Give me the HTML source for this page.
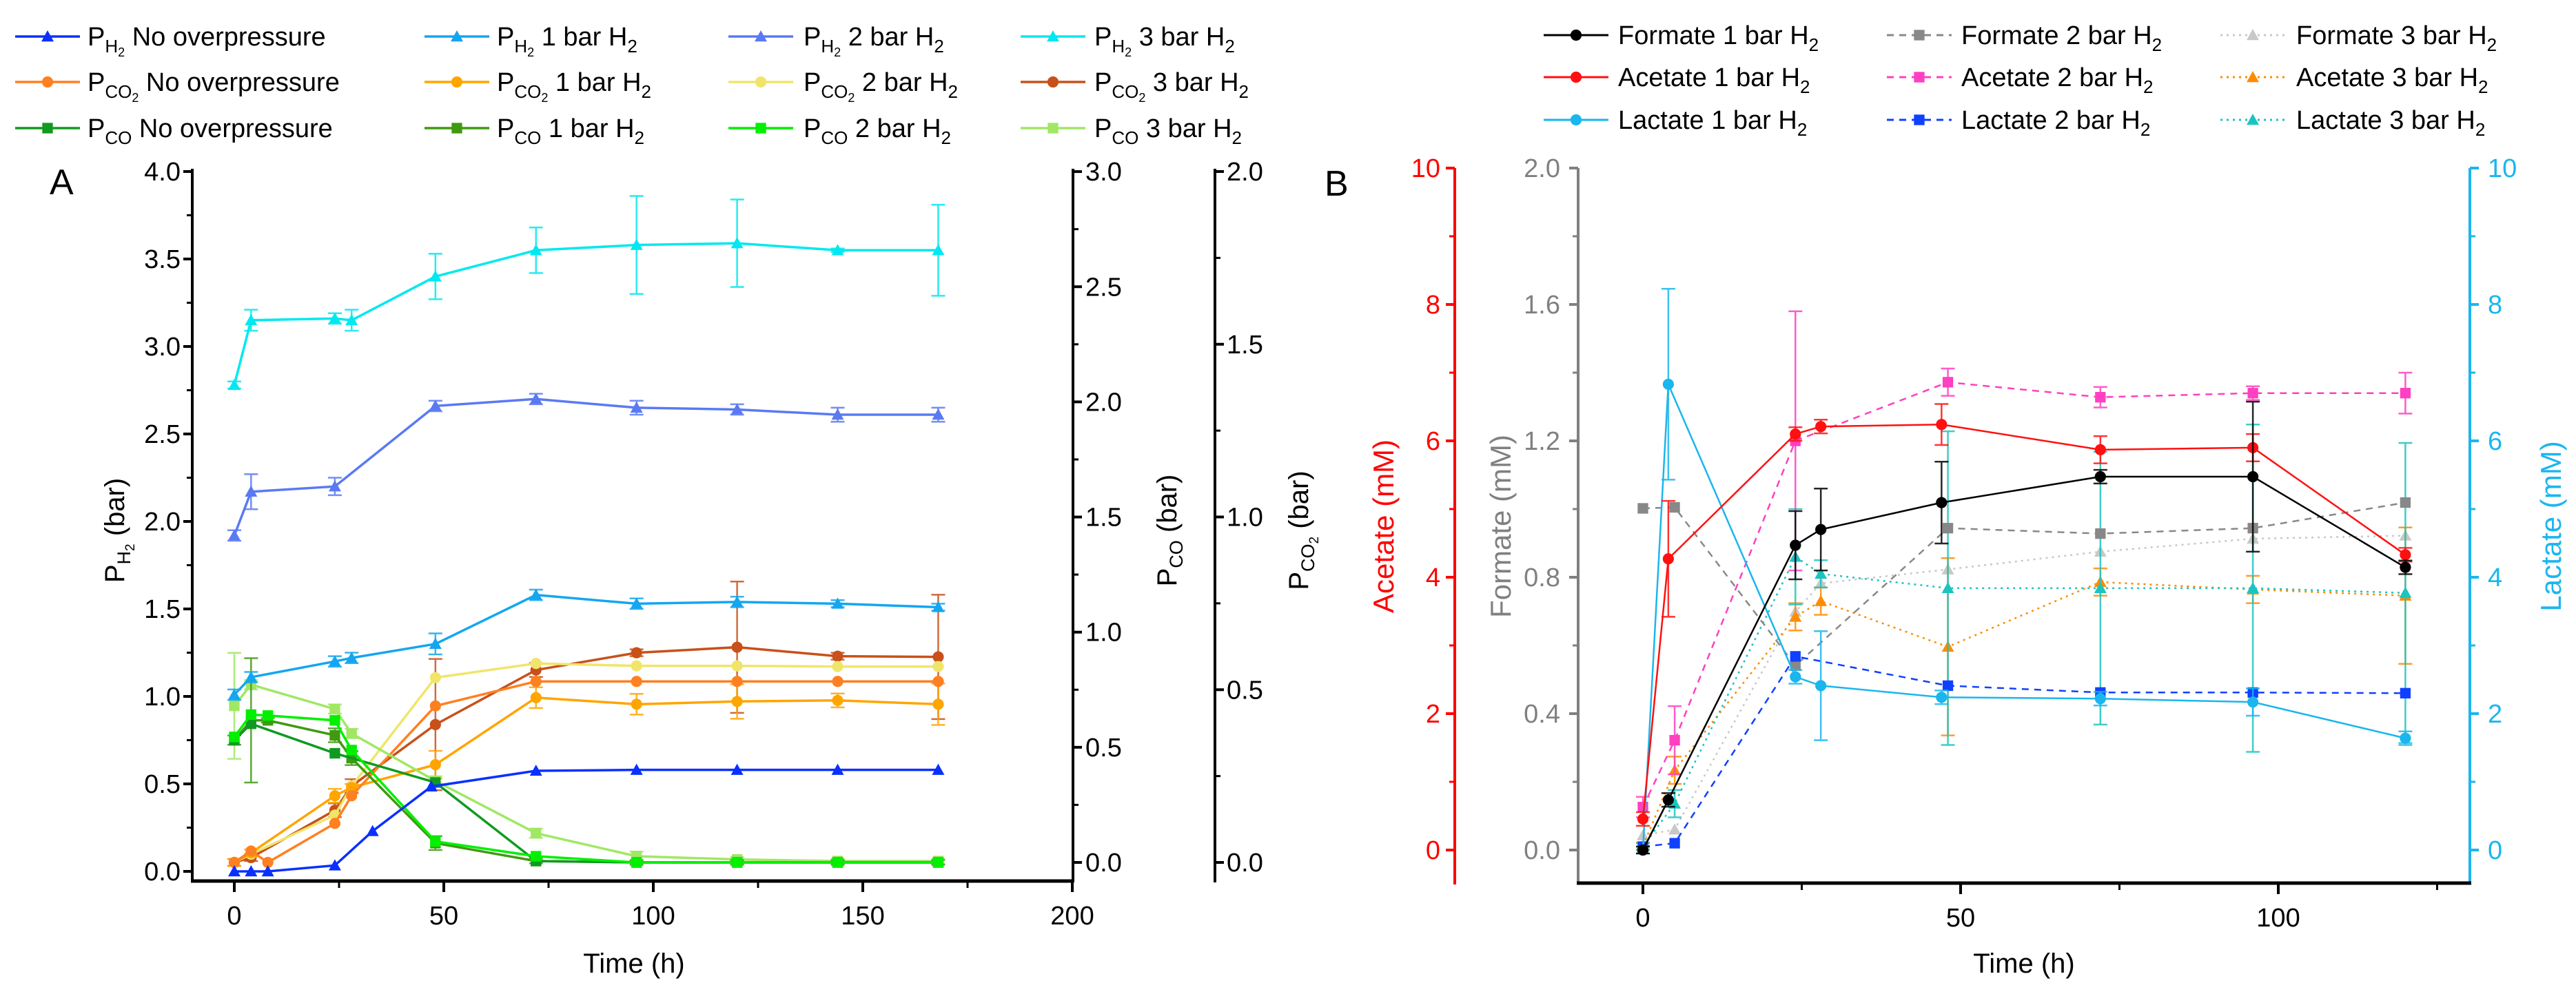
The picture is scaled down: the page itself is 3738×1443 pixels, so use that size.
<!DOCTYPE html>
<html><head><meta charset="utf-8"><style>
html,body{margin:0;padding:0;background:#fff;}
svg{display:block;font-family:"Liberation Sans",Arial,sans-serif;}
</style></head><body>
<svg id="chart" width="3738" height="1443" viewBox="0 0 3738 1443" xmlns="http://www.w3.org/2000/svg">
<rect width="3738" height="1443" fill="#fff"/>
<g id="legendA" font-size="38" fill="#000"></g>
<g id="legendB" font-size="38" fill="#000"></g>
<g id="axesA"></g>
<g id="axesB"></g>
<g id="marksA"></g>
<g id="marksB"></g>
<text x="72" y="282" font-size="52">A</text>
<text x="1922" y="284" font-size="52">B</text>
<text x="920" y="1412" font-size="40" text-anchor="middle">Time (h)</text>
<text x="2937" y="1412" font-size="40" text-anchor="middle">Time (h)</text>
<text transform="translate(180,770) rotate(-90)" font-size="40" text-anchor="middle">P<tspan font-size="27" dy="9">H</tspan><tspan font-size="19" dy="6">2</tspan><tspan dy="-15"> (bar)</tspan></text>
<text transform="translate(1707,770) rotate(-90)" font-size="40" text-anchor="middle">P<tspan font-size="27" dy="9">CO</tspan><tspan dy="-9"> (bar)</tspan></text>
<text transform="translate(1898,770) rotate(-90)" font-size="40" text-anchor="middle">P<tspan font-size="27" dy="9">CO</tspan><tspan font-size="19" dy="6">2</tspan><tspan dy="-15"> (bar)</tspan></text>
<text transform="translate(2022,764) rotate(-90)" font-size="42" fill="#ff0000" text-anchor="middle">Acetate (mM)</text>
<text transform="translate(2192,764) rotate(-90)" font-size="42" fill="#808080" text-anchor="middle">Formate (mM)</text>
<text transform="translate(3716,764) rotate(-90)" font-size="42" fill="#1ab6ee" text-anchor="middle">Lactate (mM)</text>
</svg>
<script>
// ---------- Panel A data ----------
const tH2None = [0,4,8,24,33,47,72,96,120,144,168];
const ph2None = [0,0,0,0.034,0.23,0.485,0.575,0.58,0.58,0.58,0.58];
const tH2One = [0,4,24,28,48,72,96,120,144,168];
const ph2One = [1.01,1.11,1.20,1.22,1.30,1.58,1.53,1.54,1.53,1.51];
const ph2OneErr = [0.03,0.03,0.03,0.03,0.06,0.03,0.03,0.03,0.02,0.02];
const tH2Two = [0,4,24,48,72,96,120,144,168];
const ph2Two = [1.92,2.17,2.20,2.66,2.70,2.65,2.64,2.61,2.61];
const ph2TwoErr = [0.03,0.1,0.05,0.03,0.03,0.04,0.03,0.04,0.04];
const tH2Three = [0,4,24,28,48,72,96,120,144,168];
const ph2Three = [2.78,3.15,3.16,3.15,3.40,3.55,3.58,3.59,3.55,3.55];
const ph2ThreeErr = [0.02,0.06,0.03,0.06,0.13,0.13,0.28,0.25,0.01,0.26];

const tCO2None = [0,4,8,24,28,48,72,96,120,144,168];
const pco2None = [0,0.033,0,0.113,0.193,0.453,0.524,0.524,0.524,0.524,0.524];
const tCO2 = [0,4,24,28,48,72,96,120,144,168];
const pco2One = [0,0.028,0.193,0.217,0.283,0.477,0.458,0.466,0.469,0.458];
const pco2OneErr = [0.01,0.01,0.02,0.01,0.04,0.03,0.03,0.05,0.02,0.06];
const pco2Two = [0,0.024,0.137,0.221,0.535,0.576,0.569,0.569,0.567,0.567];
const pco2Three = [0,0.014,0.151,0.221,0.399,0.557,0.607,0.623,0.597,0.595];
const pco2ThreeErr = [0.01,0.01,0.02,0.02,0.19,0.02,0.01,0.19,0.01,0.18];

const tCONone = [0,4,24,48,72,96,120,144,168];
const pcoNone = [0.531,0.602,0.474,0.347,0.006,0,0,0,0];
const tCO = [0,4,8,24,28,48,72,96,120,144,168];
const pcoOne = [0.531,0.617,0.617,0.552,0.453,0.084,0.006,0,0,0,0];
const pcoOneErr = [0.02,0.27,0.01,0.03,0.03,0.03,0.01,0.01,0.01,0.01,0.01];
const pcoTwo = [0.545,0.642,0.638,0.617,0.488,0.091,0.027,0,0,0,0];
const tCOThree = [0,4,24,28,48,72,96,120,144,168];
const pcoThree = [0.680,0.772,0.666,0.560,0.354,0.127,0.027,0.013,0.006,0.006];
const pcoThreeErr = [0.23,0.02,0.02,0.02,0.02,0.02,0.02,0.01,0.01,0.01];

const xTicksA = [0,50,100,150,200];
const yTicksLeftA = ['0.0','0.5','1.0','1.5','2.0','2.5','3.0','3.5','4.0'];
const yTicksCO = ['0.0','0.5','1.0','1.5','2.0','2.5','3.0'];
const yTicksCO2 = ['0.0','0.5','1.0','1.5','2.0'];

// ---------- Panel B data ----------
const tB1 = [0,4,24,28,47,72,96,120];
const formate1 = [0,0.147,0.894,0.94,1.019,1.095,1.095,0.829];
const formate1Err = [0.01,0.02,0.1,0.12,0.12,0.02,0.22,0.02];
const acetate1 = [0.455,4.27,6.10,6.21,6.24,5.87,5.90,4.33];
const acetate1Err = [0.1,0.85,0.1,0.1,0.3,0.2,0.2,0.1];
const lactate1 = [0,6.83,2.54,2.41,2.24,2.22,2.17,1.64];
const lactate1Err = [0.05,1.4,0.1,0.8,0.1,0.1,0.2,0.1];
const tB2 = [0,5,24,48,72,96,120];
const formate2 = [1.002,1.005,0.541,0.944,0.928,0.944,1.019];
const acetate2 = [0.63,1.61,6.00,6.86,6.64,6.70,6.70];
const acetate2Err = [0.15,0.5,1.9,0.2,0.15,0.1,0.3];
const lactate2 = [0.05,0.10,2.84,2.41,2.31,2.31,2.30];
const tB3 = [0,5,24,28,48,72,96,120];
const formate3 = [0.043,0.06,0.699,0.782,0.823,0.875,0.913,0.922];
const acetate3 = [0.06,1.17,3.42,3.65,2.98,3.93,3.82,3.73];
const acetate3Err = [0.05,0.2,0.2,0.2,1.3,0.2,0.2,1.0];
const lactate3 = [0.05,0.68,4.30,4.05,3.84,3.84,3.84,3.77];
const lactate3Err = [0.05,0.2,0.7,0.2,2.3,2.0,2.4,2.2];

const xTicksB = [0,50,100];
const yTicksAcetate = ['0','2','4','6','8','10'];
const yTicksFormate = ['0.0','0.4','0.8','1.2','1.6','2.0'];
const yTicksLactate = ['0','2','4','6','8','10'];

// ---------- scales ----------
const xA = h => 340 + h*6.08;
const yL = v => 1265 - v*254;
const yCO = v => 1252 - v*334.3;
const yCO2 = v => 1252 - v*501.5;
const xB = h => 2384 + h*9.22;
const yAc = v => 1234 - v*99;
const yFo = v => 1234 - v*495;
const yLa = v => 1234 - v*99;

const NS = 'http://www.w3.org/2000/svg';
function mk(tag, attrs, parent){
  const e = document.createElementNS(NS, tag);
  for (const k in attrs) e.setAttribute(k, attrs[k]);
  parent.appendChild(e);
  return e;
}
function marker(shape, x, y, s, color, parent, name){
  let e;
  if (shape==='tri') e = mk('polygon',{points:`${x},${y-s} ${x-s},${y+s*0.8} ${x+s},${y+s*0.8}`, fill:color}, parent);
  else if (shape==='sq') e = mk('rect',{x:x-s*0.85,y:y-s*0.85,width:s*1.7,height:s*1.7,fill:color}, parent);
  else e = mk('circle',{cx:x,cy:y,r:s*0.9,fill:color}, parent);
  
  
  return e;
}
function series(parent, name, ts, vs, errs, xf, yf, color, shape, dash, w){
  const g = mk('g', {}, parent);
  
  
  if (errs){
    ts.forEach((t,i)=>{
      const x = xf(t), y1 = yf(vs[i]+errs[i]), y2 = yf(vs[i]-errs[i]);
      const eb = mk('path',{d:`M${x},${y1}V${y2}M${x-10},${y1}H${x+10}M${x-10},${y2}H${x+10}`, stroke:color, 'stroke-width':2.5, fill:'none', opacity:0.85}, g);
      
      
    });
  }
  const line = mk('polyline',{points: ts.map((t,i)=>xf(t)+','+yf(vs[i])).join(' '), fill:'none', stroke:color, 'stroke-width':w||3.5, 'stroke-dasharray':dash||'none'}, g);
  
  
  ts.forEach((t,i)=>{ marker(shape, xf(t), yf(vs[i]), 9, color, g, name+'-point'); });
}
function axisY(parent, name, x, yTop, yBot, ticks, vmax, yf, side, color, labelX, anchor, minorStep){
  const g = mk('g',{}, parent);
  
  
  mk('line',{x1:x,y1:yTop,x2:x,y2:yBot,stroke:color,'stroke-width':4}, g);
  const dir = side==='left' ? -1 : 1;
  ticks.forEach(lbl=>{
    const v = parseFloat(lbl), y = yf(v);
    mk('line',{x1:x,y1:y,x2:x+dir*13,y2:y,stroke:color,'stroke-width':4}, g);
    const tx = mk('text',{x:labelX,y:y+13,'font-size':38,fill:color,'text-anchor':anchor}, g);
    tx.textContent = lbl;
    
    
  });
  for (let v=minorStep; v<vmax; v+=minorStep*2){
    const y = yf(v);
    mk('line',{x1:x,y1:y,x2:x+dir*8,y2:y,stroke:color,'stroke-width':3}, g);
  }
}
function axisX(parent, name, y, x1, x2, ticks, minor, xf, labelY){
  const g = mk('g',{}, parent);
  
  
  mk('line',{x1:x1,y1:y,x2:x2,y2:y,stroke:'#000','stroke-width':5}, g);
  ticks.forEach(t=>{
    const x = xf(t);
    mk('line',{x1:x,y1:y,x2:x,y2:y+16,stroke:'#000','stroke-width':4}, g);
    const tx = mk('text',{x:x,y:labelY,'font-size':38,'text-anchor':'middle'}, g);
    tx.textContent = String(t);
    
    
  });
  minor.forEach(t=>{ const x = xf(t); mk('line',{x1:x,y1:y,x2:x,y2:y+10,stroke:'#000','stroke-width':3}, g); });
}

const axA = document.getElementById('axesA');
axisY(axA,'y-axis-ph2',279,245,1281,yTicksLeftA,4,yL,'left','#000',262,'end',0.25);
axisY(axA,'y-axis-pco',1557,245,1281,yTicksCO,3,yCO,'right','#000',1575,'start',0.25);
axisY(axA,'y-axis-pco2',1763,245,1281,yTicksCO2,2,yCO2,'right','#000',1780,'start',0.25);
axisX(axA,'x-axis-a',1279,277,1557,xTicksA,[25,75,125,175],xA,1342);

const axB = document.getElementById('axesB');
axisY(axB,'y-axis-acetate',2111,244,1284,yTicksAcetate,10,yAc,'left','#ff0000',2090,'end',1);
axisY(axB,'y-axis-formate',2290,244,1284,yTicksFormate,2,yFo,'left','#808080',2264,'end',0.2);
axisY(axB,'y-axis-lactate',3584,244,1284,yTicksLactate,10,yLa,'right','#1ab6ee',3610,'start',1);
axisX(axB,'x-axis-b',1282,2288,3586,xTicksB,[25,75,125],xB,1345);

const mA = document.getElementById('marksA');
series(mA,'pco2-3bar',tCO2,pco2Three,pco2ThreeErr,xA,yCO2,'#c8501a','circ');
series(mA,'pco2-2bar',tCO2,pco2Two,null,xA,yCO2,'#f0e56a','circ');
series(mA,'pco2-1bar',tCO2,pco2One,pco2OneErr,xA,yCO2,'#ffa500','circ');
series(mA,'pco2-no-overpressure',tCO2None,pco2None,null,xA,yCO2,'#ff8020','circ');
series(mA,'pco-3bar',tCOThree,pcoThree,pcoThreeErr,xA,yCO,'#a0e864','sq');
series(mA,'pco-1bar',tCO,pcoOne,pcoOneErr,xA,yCO,'#3f9a10','sq');
series(mA,'pco-no-overpressure',tCONone,pcoNone,null,xA,yCO,'#109a20','sq');
series(mA,'pco-2bar',tCO,pcoTwo,null,xA,yCO,'#00f000','sq');
series(mA,'ph2-no-overpressure',tH2None,ph2None,null,xA,yL,'#0a30ff','tri');
series(mA,'ph2-1bar',tH2One,ph2One,ph2OneErr,xA,yL,'#14a6f0','tri');
series(mA,'ph2-2bar',tH2Two,ph2Two,ph2TwoErr,xA,yL,'#5a7af2','tri');
series(mA,'ph2-3bar',tH2Three,ph2Three,ph2ThreeErr,xA,yL,'#00e8f0','tri');

const mB = document.getElementById('marksB');
series(mB,'formate-3bar',tB3,formate3,null,xB,yFo,'#c8c8c8','tri','3 6',2.5);
series(mB,'acetate-3bar',tB3,acetate3,acetate3Err,xB,yAc,'#ff8c00','tri','3 6',2.5);
series(mB,'lactate-3bar',tB3,lactate3,lactate3Err,xB,yLa,'#1cc4c0','tri','3 6',2.5);
series(mB,'formate-2bar',tB2,formate2,null,xB,yFo,'#888888','sq','10 8',2.5);
series(mB,'acetate-2bar',tB2,acetate2,acetate2Err,xB,yAc,'#ff40c0','sq','10 8',2.5);
series(mB,'lactate-2bar',tB2,lactate2,null,xB,yLa,'#1040ff','sq','10 8',2.5);
series(mB,'lactate-1bar',tB1,lactate1,lactate1Err,xB,yLa,'#1ab6ee','circ',null,2.5);
series(mB,'acetate-1bar',tB1,acetate1,acetate1Err,xB,yAc,'#ff1010','circ',null,2.5);
series(mB,'formate-1bar',tB1,formate1,formate1Err,xB,yFo,'#000000','circ',null,2.5);

// ---------- legends ----------
const legA = document.getElementById('legendA');
const legAcols = [[22,127],[616,721],[1057,1166],[1481,1588]];
const legArows = [53,119,186];
const legAnames = [
 ['ph2-no-overpressure','ph2-1bar','ph2-2bar','ph2-3bar'],
 ['pco2-no-overpressure','pco2-1bar','pco2-2bar','pco2-3bar'],
 ['pco-no-overpressure','pco-1bar','pco-2bar','pco-3bar']];
const legAcolors = [['#0a30ff','#14a6f0','#5a7af2','#00e8f0'],['#ff8020','#ffa500','#f0e56a','#c8501a'],['#109a20','#3f9a10','#00f000','#a0e864']];
const legAshapes = ['tri','circ','sq'];
const legAsubs = [['H','2'],['CO','2'],['CO','']];
const legAtails = ['No overpressure','1 bar H','2 bar H','3 bar H'];
legArows.forEach((cy,r)=>{
  legAcols.forEach((c,k)=>{
    const g = mk('g',{}, legA);
    
    
    mk('line',{x1:c[0],y1:cy,x2:c[0]+94,y2:cy,stroke:legAcolors[r][k],'stroke-width':3.5}, g);
    marker(legAshapes[r], c[0]+47, cy, 9, legAcolors[r][k], g, 'legend-marker');
    const t = mk('text',{x:c[1],y:cy+13}, g);
    let html = 'P<tspan font-size="26" dy="10">'+legAsubs[r][0]+'</tspan>';
    let back = -10;
    if (legAsubs[r][1]) { html += '<tspan font-size="18" dy="6">2</tspan>'; back = -16; }
    html += '<tspan dy="'+back+'"> '+legAtails[k]+'</tspan>';
    if (k>0) html += '<tspan font-size="26" dy="10">2</tspan>';
    t.innerHTML = html;
  });
});

const legB = document.getElementById('legendB');
const legBcols = [[2240,2348],[2738,2846],[3222,3332]];
const legBrows = [51,112,174];
const legBlabels = [['Formate 1 bar H','Formate 2 bar H','Formate 3 bar H'],['Acetate 1 bar H','Acetate 2 bar H','Acetate 3 bar H'],['Lactate 1 bar H','Lactate 2 bar H','Lactate 3 bar H']];
const legBcolors = [['#000000','#888888','#c8c8c8'],['#ff1010','#ff40c0','#ff8c00'],['#1ab6ee','#1040ff','#1cc4c0']];
const legBshapes = ['circ','sq','tri'];
const legBdash = ['none','10 8','3 6'];
legBrows.forEach((cy,r)=>{
  legBcols.forEach((c,k)=>{
    const g = mk('g',{}, legB);
    
    
    mk('line',{x1:c[0],y1:cy,x2:c[0]+94,y2:cy,stroke:legBcolors[r][k],'stroke-width':3,'stroke-dasharray':legBdash[k]}, g);
    marker(legBshapes[k], c[0]+47, cy, 9, legBcolors[r][k], g, 'legend-marker');
    const t = mk('text',{x:c[1],y:cy+13}, g);
    t.innerHTML = legBlabels[r][k]+'<tspan font-size="26" dy="10">2</tspan>';
  });
});
</script>
</body></html>
